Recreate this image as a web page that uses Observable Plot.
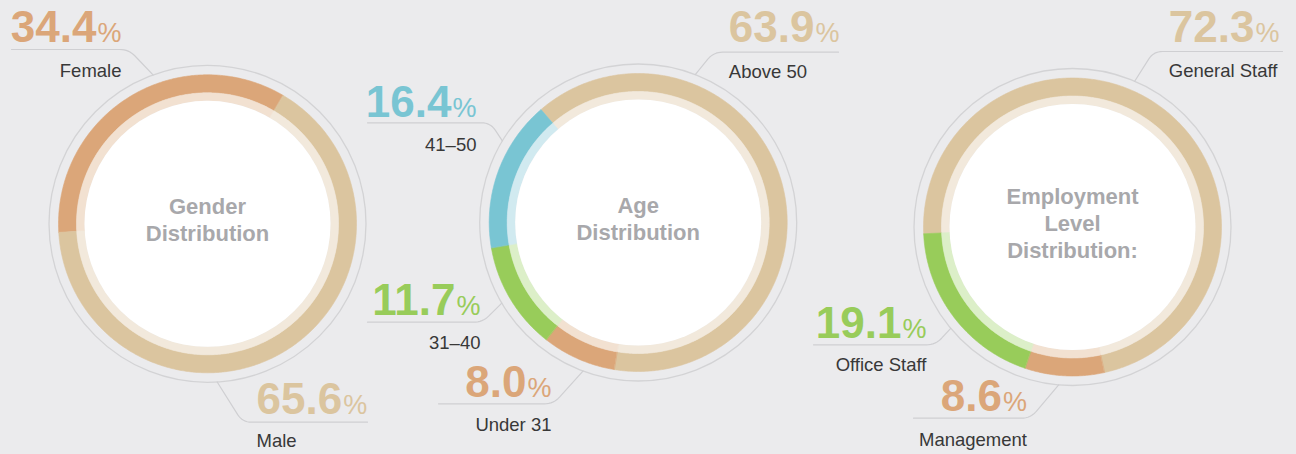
<!DOCTYPE html>
<html><head><meta charset="utf-8">
<script src="https://cdn.jsdelivr.net/npm/d3@7"></script>
<script src="https://cdn.jsdelivr.net/npm/@observablehq/plot@0.6"></script>
<style>
html,body{margin:0;padding:0;background:#ebebed;}
#chart{width:1296px;height:454px;overflow:hidden;}
</style></head><body><div id="chart"></div>
<script>
// ---------- data ----------
const genderCategories = ["Female", "Male"];
const genderValues = [34.4, 65.6];
const ageCategories = ["Above 50", "Under 31", "31–40", "41–50"];
const ageValues = [63.9, 8.0, 11.7, 16.4];
const levelCategories = ["General Staff", "Management", "Office Staff"];
const levelValues = [72.3, 8.6, 19.1];
const donutTitles = ["Gender\nDistribution", "Age\nDistribution", "Employment\nLevel\nDistribution:"];

// ---------- styles ----------
const TAN = ["#dbc59f", "#f2e9dc"], ORANGE = ["#dba679", "#f2e1d1"],
      BLUE = ["#79c5d3", "#d1eaf0"], GREEN = ["#98cc5a", "#dcefc8"];
const colorOf = {
  "Female": ORANGE, "Male": TAN,
  "Above 50": TAN, "Under 31": ORANGE, "31–40": GREEN, "41–50": BLUE,
  "General Staff": TAN, "Management": ORANGE, "Office Staff": GREEN
};
const R_THIN = 158.5, R_OUT = 149, R_MID = 131, R_IN = 123;
const FONT = "Liberation Sans";

// ---------- layout ----------
const donutLayout = [
  {cx: 207, cy: 223.3, start: -93.3},
  {cx: 637.7, cy: 222, start: -40.7},
  {cx: 1072, cy: 226.5, start: -92.6}
];
const labelLayout = {
  "Female":        {anchor: "end",   x: 121,    num: 41.5,  lab: 76,    angle: -20.1,  corner: [128.3, 49],   end: 11},
  "Male":          {anchor: "start", x: 256,    num: 413.3, lab: 446,   angle: 176.5,  corner: [242, 421.7],  end: 367},
  "41–50":         {anchor: "end",   x: 476,    num: 116,   lab: 150,   angle: -59,    corner: [490, 122.3],  end: 367},
  "31–40":         {anchor: "end",   x: 480,    num: 314.3, lab: 348.3, angle: -120.6, corner: [482, 321.7],  end: 367},
  "Under 31":      {anchor: "end",   x: 551,    num: 396.7, lab: 430,   angle: -159.6, corner: [553, 403.3],  end: 438},
  "Above 50":      {anchor: "start", x: 728.3,  num: 41.7,  lab: 77.3,  angle: 21.1,   corner: [713, 51.7],   end: 838},
  "General Staff": {anchor: "start", x: 1168.3, num: 41.7,  lab: 76,    angle: 23.1,   corner: [1153, 51],    end: 1282},
  "Office Staff":  {anchor: "end",   x: 926,    num: 337.3, lab: 370.7, angle: -129.8, corner: [935, 344.3], end: 813},
  "Management":    {anchor: "end",   x: 1026.5, num: 410.7, lab: 445,   angle: -175,   corner: [1030, 417.7], end: 913}
};

// ---------- build ----------
const groups = [
  {cats: genderCategories, vals: genderValues},
  {cats: ageCategories, vals: ageValues},
  {cats: levelCategories, vals: levelValues}
];
const rad = d => d * Math.PI / 180;
const pt = (cx, cy, r, a) => ({x: cx + r * Math.sin(rad(a)), y: cy - r * Math.cos(rad(a))});
function ringPolygon(cx, cy, r0, r1, a0, a1) {
  const pts = [];
  const n = Math.max(2, Math.ceil((a1 - a0) / 0.5));
  for (let i = 0; i <= n; i++) pts.push(pt(cx, cy, r1, a0 + (a1 - a0) * i / n));
  for (let i = n; i >= 0; i--) pts.push(pt(cx, cy, r0, a0 + (a1 - a0) * i / n));
  return pts;
}
const ctx = document.createElement("canvas").getContext("2d");
function textWidth(t, font) { ctx.font = font; return ctx.measureText(t).width; }

const ringMarks = [];
const leaderMarks = [];
const numberRows = [], pctRows = [], labelRows = [];
groups.forEach((g, gi) => {
  const L = donutLayout[gi];
  const total = d3.sum(g.vals);
  let a = L.start;
  g.cats.forEach((c, i) => {
    const span = g.vals[i] / total * 360;
    const [strong, light] = colorOf[c];
    ringMarks.push(Plot.line(ringPolygon(L.cx, L.cy, R_MID, R_OUT, a, a + span),
      {x: "x", y: "y", fill: strong, stroke: strong, strokeWidth: 0.6, curve: "linear-closed"}));
    ringMarks.push(Plot.line(ringPolygon(L.cx, L.cy, R_IN, R_MID, a, a + span),
      {x: "x", y: "y", fill: light, stroke: light, strokeWidth: 0.6, curve: "linear-closed"}));
    a += span;

    // leader line
    const lay = labelLayout[c];
    const p0 = pt(L.cx, L.cy, R_THIN, lay.angle);
    const C = {x: lay.corner[0], y: lay.corner[1]};
    const p2 = {x: lay.end, y: lay.corner[1]};
    const unit = (p, q) => { const dx = p.x - q.x, dy = p.y - q.y, d = Math.hypot(dx, dy); return {x: dx / d, y: dy / d}; };
    const u = unit(p0, C), v = unit(p2, C), rr = 9;
    const A = {x: C.x + u.x * rr, y: C.y + u.y * rr}, B = {x: C.x + v.x * rr, y: C.y + v.y * rr};
    const path = [p0, A];
    for (let k = 1; k < 8; k++) {
      const t = k / 8;
      path.push({x: (1-t)*(1-t)*A.x + 2*(1-t)*t*C.x + t*t*B.x, y: (1-t)*(1-t)*A.y + 2*(1-t)*t*C.y + t*t*B.y});
    }
    path.push(B, p2);
    leaderMarks.push(Plot.line(path, {x: "x", y: "y", stroke: "#cfcfd2", strokeWidth: 1.2}));

    // texts
    const numText = g.vals[i].toFixed(1);
    const wNum = textWidth(numText, `bold 44px "${FONT}"`);
    const wPct = textWidth("%", `27px "${FONT}"`);
    if (lay.anchor === "start") {
      numberRows.push({x: lay.x, y: lay.num, text: numText, color: strong, anchor: "start"});
      pctRows.push({x: lay.x + wNum + 1, y: lay.num, text: "%", color: strong, anchor: "start"});
    } else {
      pctRows.push({x: lay.x, y: lay.num, text: "%", color: strong, anchor: "end"});
      numberRows.push({x: lay.x - wPct - 1, y: lay.num, text: numText, color: strong, anchor: "end"});
    }
    labelRows.push({x: lay.x, y: lay.lab, text: c, anchor: lay.anchor});
  });
});

const titleRows = donutLayout.map((L, i) => {
  const lines = donutTitles[i].split("\n").length;
  return {x: L.cx, y: L.cy + 4 + (lines - 1) * 26.6 / 2, text: donutTitles[i]};
});

const textMarks = [];
for (const anchor of ["start", "end"]) {
  textMarks.push(Plot.text(numberRows.filter(d => d.anchor === anchor),
    {x: "x", y: "y", text: "text", fill: "color", textAnchor: anchor, lineAnchor: "bottom",
     fontSize: 44, fontWeight: "bold", fontFamily: FONT}));
  textMarks.push(Plot.text(pctRows.filter(d => d.anchor === anchor),
    {x: "x", y: "y", text: "text", fill: "color", textAnchor: anchor, lineAnchor: "bottom",
     fontSize: 27, fontFamily: FONT}));
  textMarks.push(Plot.text(labelRows.filter(d => d.anchor === anchor),
    {x: "x", y: "y", text: "text", fill: "#383838", textAnchor: anchor, lineAnchor: "bottom",
     fontSize: 18.5, fontFamily: FONT}));
}

const chart = Plot.plot({
  width: 1296, height: 454, margin: 0,
  x: {domain: [0, 1296], range: [0, 1296], axis: null},
  y: {domain: [0, 454], range: [0, 454], axis: null},
  color: {type: "identity"},
  style: {background: "#ebebed", fontFamily: FONT, overflow: "visible"},
  marks: [
    Plot.dot(donutLayout, {x: "cx", y: "cy", r: R_THIN, stroke: "#d3d3d5", strokeWidth: 1.3, fill: "none"}),
    ...leaderMarks,
    ...ringMarks,
    Plot.dot(donutLayout, {x: "cx", y: "cy", r: R_IN, fill: "#ffffff", stroke: "none"}),
    Plot.text(titleRows, {x: "x", y: "y", text: "text", fill: "#a8a8ab", fontSize: 22, fontWeight: "bold",
      lineAnchor: "bottom", lineHeight: 1.21, fontFamily: FONT}),
    ...textMarks
  ]
});
document.getElementById("chart").appendChild(chart);
</script>
</body></html>
